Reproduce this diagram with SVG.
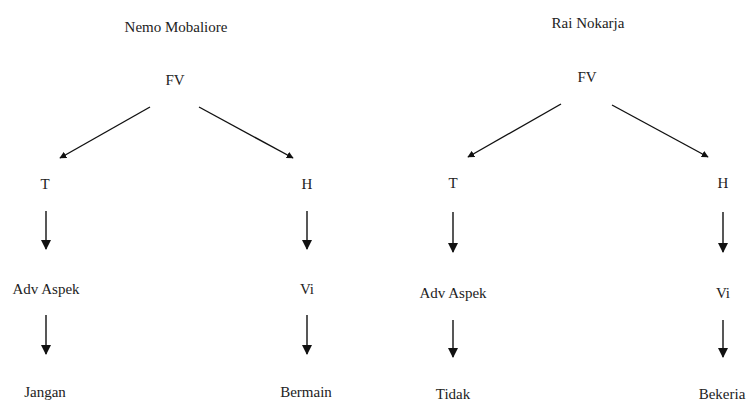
<svg xmlns="http://www.w3.org/2000/svg" width="750" height="406" viewBox="0 0 750 406">
<style>
.n text{font-family:'Liberation Serif','Times New Roman','DejaVu Serif',serif;font-size:15px;fill:#222;text-anchor:middle}
.c line{stroke:#111;stroke-width:1.4}
</style>
<defs>
<marker id="ah" viewBox="0 0 10 10" refX="9" refY="5" markerWidth="7" markerHeight="7" markerUnits="userSpaceOnUse" orient="auto">
<path d="M0,0 L10,5 L0,10 z" fill="#111"/>
</marker>
<marker id="av" viewBox="0 0 10 10" refX="9" refY="5" markerWidth="10" markerHeight="10" markerUnits="userSpaceOnUse" orient="auto">
<path d="M0,0 L10,5 L0,10 z" fill="#111"/>
</marker>
</defs>
<rect width="750" height="406" fill="#fff"/>
<g class="n" font-family="Liberation Serif, serif">
<g id="title-left"><text x="176" y="32">Nemo Mobaliore</text></g>
<g id="fv-left"><text x="175" y="85">FV</text></g>
<g id="t-left"><text x="45" y="189">T</text></g>
<g id="h-left"><text x="307" y="189">H</text></g>
<g id="adv-left"><text x="46" y="294">Adv Aspek</text></g>
<g id="vi-left"><text x="307" y="294">Vi</text></g>
<g id="jangan"><text x="45" y="397">Jangan</text></g>
<g id="bermain"><text x="306" y="397">Bermain</text></g>
<g id="title-right"><text x="588" y="28">Rai Nokarja</text></g>
<g id="fv-right"><text x="587" y="82">FV</text></g>
<g id="t-right"><text x="453" y="188">T</text></g>
<g id="h-right"><text x="723" y="188">H</text></g>
<g id="adv-right"><text x="453" y="298">Adv Aspek</text></g>
<g id="vi-right"><text x="723" y="298">Vi</text></g>
<g id="tidak"><text x="453" y="399">Tidak</text></g>
<g id="bekeria"><text x="722" y="399">Bekeria</text></g>
</g>
<g id="connectors" class="c">
<line x1="150" y1="107" x2="60" y2="158" marker-end="url(#ah)"/>
<line x1="199" y1="107" x2="293" y2="158" marker-end="url(#ah)"/>
<line x1="46" y1="211" x2="46" y2="249" marker-end="url(#av)"/>
<line x1="46" y1="315" x2="46" y2="354" marker-end="url(#av)"/>
<line x1="307" y1="211" x2="307" y2="249" marker-end="url(#av)"/>
<line x1="307" y1="315" x2="307" y2="354" marker-end="url(#av)"/>
<line x1="561" y1="104" x2="468" y2="157" marker-end="url(#ah)"/>
<line x1="612" y1="105" x2="708" y2="157" marker-end="url(#ah)"/>
<line x1="453" y1="212" x2="453" y2="252" marker-end="url(#av)"/>
<line x1="453" y1="320" x2="453" y2="357" marker-end="url(#av)"/>
<line x1="723" y1="212" x2="723" y2="252" marker-end="url(#av)"/>
<line x1="723" y1="320" x2="723" y2="357" marker-end="url(#av)"/>
</g>
</svg>
